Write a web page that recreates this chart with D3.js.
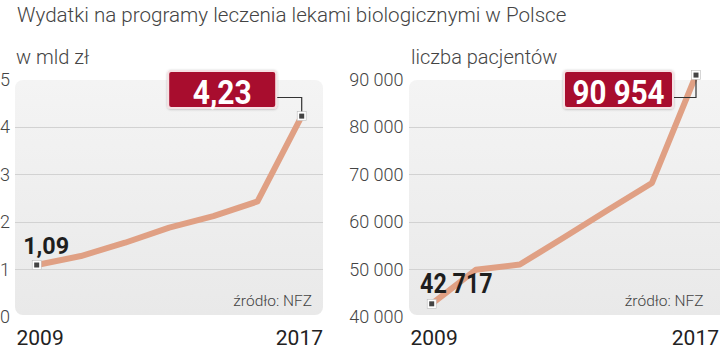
<!DOCTYPE html>
<html>
<head>
<meta charset="utf-8">
<script src="https://cdn.jsdelivr.net/npm/d3@7"></script>
<style>
  html, body { margin: 0; padding: 0; background: #ffffff; }
  svg { display: block; }
</style>
</head>
<body>
<svg id="chart" width="720" height="350"></svg>
<script>
// ---------- data ----------
const title = "Wydatki na programy leczenia lekami biologicznymi w Polsce";
const periods = ["2009", "p2", "p3", "p4", "p5", "p6", "2017"];
const yearLabels = ["2009", "2017"];
const spendingLabel = "w mld zł";
const spendingValues = [1.09, 1.28, 1.56, 1.88, 2.12, 2.43, 4.23];
const spendingTicks = [0, 1, 2, 3, 4, 5];
const spendingFirstLabel = "1,09";
const spendingLastLabel = "4,23";
const patientsLabel = "liczba pacjentów";
const patientsValues = [42717, 49900, 51000, 56700, 62500, 68200, 90954];
const patientsTicks = [40000, 50000, 60000, 70000, 80000, 90000];
const patientsFirstLabel = "42 717";
const patientsLastLabel = "90 954";
const sourceText = "źródło: NFZ";

// ---------- setup ----------
const svg = d3.select("#chart");
const LIGHT = "Roboto, 'Open Sans', sans-serif";
const COND = "Roboto, 'Liberation Sans', sans-serif";
const defs = svg.append("defs");
const grad = defs.append("linearGradient").attr("id", "panelGrad")
  .attr("x1", 0).attr("y1", 0).attr("x2", 0).attr("y2", 1);
grad.append("stop").attr("offset", "0%").attr("stop-color", "#f4f4f4");
grad.append("stop").attr("offset", "100%").attr("stop-color", "#e9e9e9");
const shadow = defs.append("filter").attr("id", "boxShadow")
  .attr("x", "-20%").attr("y", "-30%").attr("width", "140%").attr("height", "160%");
shadow.append("feDropShadow").attr("dx", 0).attr("dy", 0.5).attr("stdDeviation", 1)
  .attr("flood-color", "#000").attr("flood-opacity", 0.25);

svg.append("text")
  .attr("x", 17).attr("y", 22)
  .attr("font-family", LIGHT).attr("font-weight", 300)
  .attr("font-size", 20.6).attr("fill", "#444")
  .text(title);

const fmtSpace = d => d3.format(",")(d).replace(/,/g, " ");

function drawPanel(cfg) {
  const g = svg.append("g");
  const x = d3.scalePoint().domain(periods).range(cfg.xRange);
  const y = d3.scaleLinear().domain(cfg.yDomain).range([316.7, 79.6]);

  // panel background
  g.append("rect")
    .attr("x", cfg.panel[0]).attr("y", 80)
    .attr("width", cfg.panel[1] - cfg.panel[0]).attr("height", 235)
    .attr("rx", 8).attr("fill", "url(#panelGrad)");

  // subtitle
  g.append("text")
    .attr("x", cfg.subX).attr("y", 64)
    .attr("font-family", LIGHT).attr("font-weight", 300)
    .attr("font-size", 20).attr("fill", "#444")
    .text(cfg.subtitle);

  // gridlines
  const inner = cfg.ticks.slice(1, -1);
  g.selectAll(".grid").data(inner).join("line")
    .attr("x1", cfg.panel[0]).attr("x2", cfg.panel[1])
    .attr("y1", d => Math.round(y(d)) + 0.5).attr("y2", d => Math.round(y(d)) + 0.5)
    .attr("stroke", "#d2d2d2").attr("stroke-width", 1);

  // y axis labels
  const axis = d3.axisLeft(y).tickValues(cfg.ticks).tickFormat(cfg.fmt).tickSize(0).tickPadding(0);
  const ax = g.append("g").attr("transform", `translate(${cfg.axisX},0)`).call(axis);
  ax.select(".domain").remove();
  ax.selectAll("text")
    .attr("text-anchor", cfg.axisAnchor)
    .attr("font-family", LIGHT).attr("font-weight", 300)
    .attr("font-size", 18).attr("fill", "#444");

  // source
  g.append("text")
    .attr("x", cfg.srcX).attr("y", 306)
    .attr("text-anchor", "end")
    .attr("font-family", LIGHT).attr("font-weight", 300)
    .attr("font-size", 15.5).attr("fill", "#444")
    .text(sourceText);

  // line
  const line = d3.line().x((d, i) => x(periods[i])).y(d => y(d));
  g.append("path").datum(cfg.values)
    .attr("d", line).attr("fill", "none")
    .attr("stroke", "#e0a084").attr("stroke-width", 6)
    .attr("stroke-linejoin", "round");

  const n = cfg.values.length;
  const x0 = x(periods[0]), y0 = y(cfg.values[0]);
  const x1 = x(periods[n - 1]), y1 = y(cfg.values[n - 1]);

  // connector + callout box
  const boxRight = x1 - cfg.boxGap, boxW = cfg.boxW, boxTop = 71, boxH = 37;
  g.append("path")
    .attr("d", `M${boxRight},97.5H${x1}V${y1}`)
    .attr("fill", "none").attr("stroke", "#333").attr("stroke-width", 1.2);
  g.append("rect")
    .attr("x", boxRight - boxW).attr("y", boxTop)
    .attr("width", boxW).attr("height", boxH).attr("rx", 3)
    .attr("fill", "#a80f2d").attr("stroke", "#f6e1e4").attr("stroke-width", 2)
    .attr("filter", "url(#boxShadow)");
  g.append("text")
    .attr("x", boxRight - boxW / 2).attr("y", 104.3)
    .attr("text-anchor", "middle")
    .attr("font-family", COND).attr("font-weight", 700)
    .attr("font-size", 34).attr("fill", "#fff")
    .attr("textLength", cfg.lastW).attr("lengthAdjust", "spacingAndGlyphs")
    .text(cfg.lastLabel);

  // first value label
  g.append("text")
    .attr("x", x0 - cfg.firstDx).attr("y", y0 - 11)
    .attr("font-family", COND).attr("font-weight", 700)
    .attr("font-size", cfg.firstSize).attr("fill", "#1e1e1e")
    .attr("textLength", cfg.firstW).attr("lengthAdjust", "spacingAndGlyphs")
    .text(cfg.firstLabel);

  // markers
  [[x0, y0], [x1, y1]].forEach(([mx, my]) => {
    g.append("rect").attr("x", mx - 4.5).attr("y", my - 4.5)
      .attr("width", 9).attr("height", 9)
      .attr("fill", "#fff").attr("stroke", "#bbb").attr("stroke-width", 0.6);
    g.append("rect").attr("x", mx - 2.5).attr("y", my - 2.5)
      .attr("width", 5).attr("height", 5).attr("fill", "#444");
  });

  // year labels
  g.append("text")
    .attr("x", cfg.panel[0] + 1.5).attr("y", 345)
    .attr("font-family", LIGHT).attr("font-weight", 400)
    .attr("font-size", 21).attr("fill", "#222")
    .text(yearLabels[0]);
  g.append("text")
    .attr("x", cfg.yearEnd).attr("y", 345).attr("text-anchor", "end")
    .attr("font-family", LIGHT).attr("font-weight", 400)
    .attr("font-size", 21).attr("fill", "#222")
    .text(yearLabels[1]);
}

drawPanel({
  xRange: [36.7, 301.7], yDomain: [0, 5], ticks: spendingTicks,
  fmt: d3.format("d"), panel: [15, 323], subX: 16, subtitle: spendingLabel,
  axisX: 0, axisAnchor: "start", srcX: 312, values: spendingValues,
  boxGap: 25.5, boxW: 108, lastLabel: spendingLastLabel, lastW: 59,
  firstLabel: spendingFirstLabel, firstDx: 13.5, firstSize: 23.5, firstW: 46, yearEnd: 323
});

drawPanel({
  xRange: [431.7, 696], yDomain: [40000, 90000], ticks: patientsTicks,
  fmt: fmtSpace, panel: [409, 740], subX: 411, subtitle: patientsLabel,
  axisX: 403.5, axisAnchor: "end", srcX: 703.5, values: patientsValues,
  boxGap: 23, boxW: 109, lastLabel: patientsLastLabel, lastW: 92,
  firstLabel: patientsFirstLabel, firstDx: 11.7, firstSize: 27, firstW: 72.7, yearEnd: 719
});
</script>
</body>
</html>
